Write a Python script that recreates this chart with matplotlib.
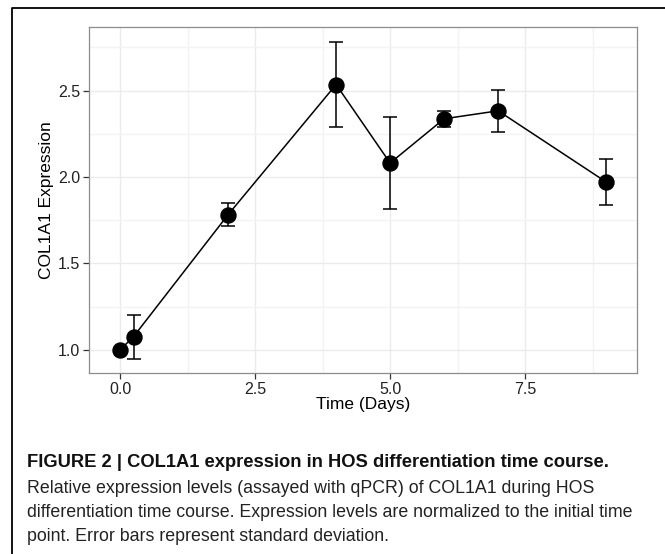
import numpy as np
import matplotlib
matplotlib.use("Agg")
import matplotlib.pyplot as plt
from matplotlib.lines import Line2D
from matplotlib.ticker import MultipleLocator

plt.rcParams['font.family'] = ['Liberation Sans', 'DejaVu Sans']

# values
days = [0, 0.25, 2, 4, 5, 6, 7, 9]
expr = [1.0, 1.077, 1.782, 2.535, 2.081, 2.337, 2.383, 1.971]
sd = [0.01, 0.128, 0.066, 0.245, 0.265, 0.046, 0.12, 0.135]

x_ticks = [0.0, 2.5, 5.0, 7.5]
y_ticks = [1.0, 1.5, 2.0, 2.5]

caption_title = "FIGURE 2 | COL1A1 expression in HOS differentiation time course."
caption_lines = [
    "Relative expression levels (assayed with qPCR) of COL1A1 during HOS",
    "differentiation time course. Expression levels are normalized to the initial time",
    "point. Error bars represent standard deviation.",
]

W, H = 665, 554
fig = plt.figure(figsize=(W / 100, H / 100), dpi=100)

# panel placement in pixels
left, right, top, bottom = 89, 637, 27.3, 373.3
ax = fig.add_axes([left / W, 1 - bottom / H, (right - left) / W, (bottom - top) / H])

ax.errorbar(days, expr, yerr=sd, fmt='none', ecolor='black', elinewidth=1.1,
            capsize=4.9, capthick=1.1, zorder=3)
ax.plot(days, expr, color='black', lw=1.1, zorder=4)
ax.plot(days, expr, 'o', color='black', markersize=10.8, zorder=5)

ax.set_xlim(-0.574, 9.57)
ax.set_ylim(0.865, 2.866)
ax.set_xticks(x_ticks)
ax.set_xticklabels([f"{v:.1f}" for v in x_ticks])
ax.set_yticks(y_ticks)
ax.set_yticklabels([f"{v:.1f}" for v in y_ticks])
ax.xaxis.set_minor_locator(MultipleLocator(1.25))
ax.yaxis.set_minor_locator(MultipleLocator(0.25))

ax.grid(which='major', color='#ebebeb', lw=1.0, zorder=0)
ax.grid(which='minor', color='#f3f3f3', lw=1.0, zorder=0)
ax.set_axisbelow(True)
for s in ax.spines.values():
    s.set_color('#8c8c8c')
    s.set_linewidth(0.9)

ax.tick_params(which='major', direction='out', length=4, width=0.9, color='#333333',
               labelsize=11.5, labelcolor='#222222', pad=2.5)
ax.tick_params(which='minor', length=0)

ax.set_xlabel("Time (Days)", fontsize=12.5, labelpad=0)
ax.set_ylabel("COL1A1 Expression", fontsize=12.5, labelpad=3)

# outer frame (left and top edges visible)
fy = 1 - 7.5 / H
fx = 12 / W
fig.add_artist(Line2D([fx, fx, 1.0], [0, fy, fy], transform=fig.transFigure,
                      color='black', lw=1.3))

# caption
cx = 27 / W
fig.text(cx, 1 - 466.7 / H, caption_title, fontsize=13.2, fontweight='bold',
         va='baseline', ha='left', color='#111111')
for i, line in enumerate(caption_lines):
    fig.text(cx, 1 - (492.7 + 24 * i) / H, line, fontsize=12.8,
             va='baseline', ha='left', color='#222222')

fig.savefig("out.png", dpi=100)
